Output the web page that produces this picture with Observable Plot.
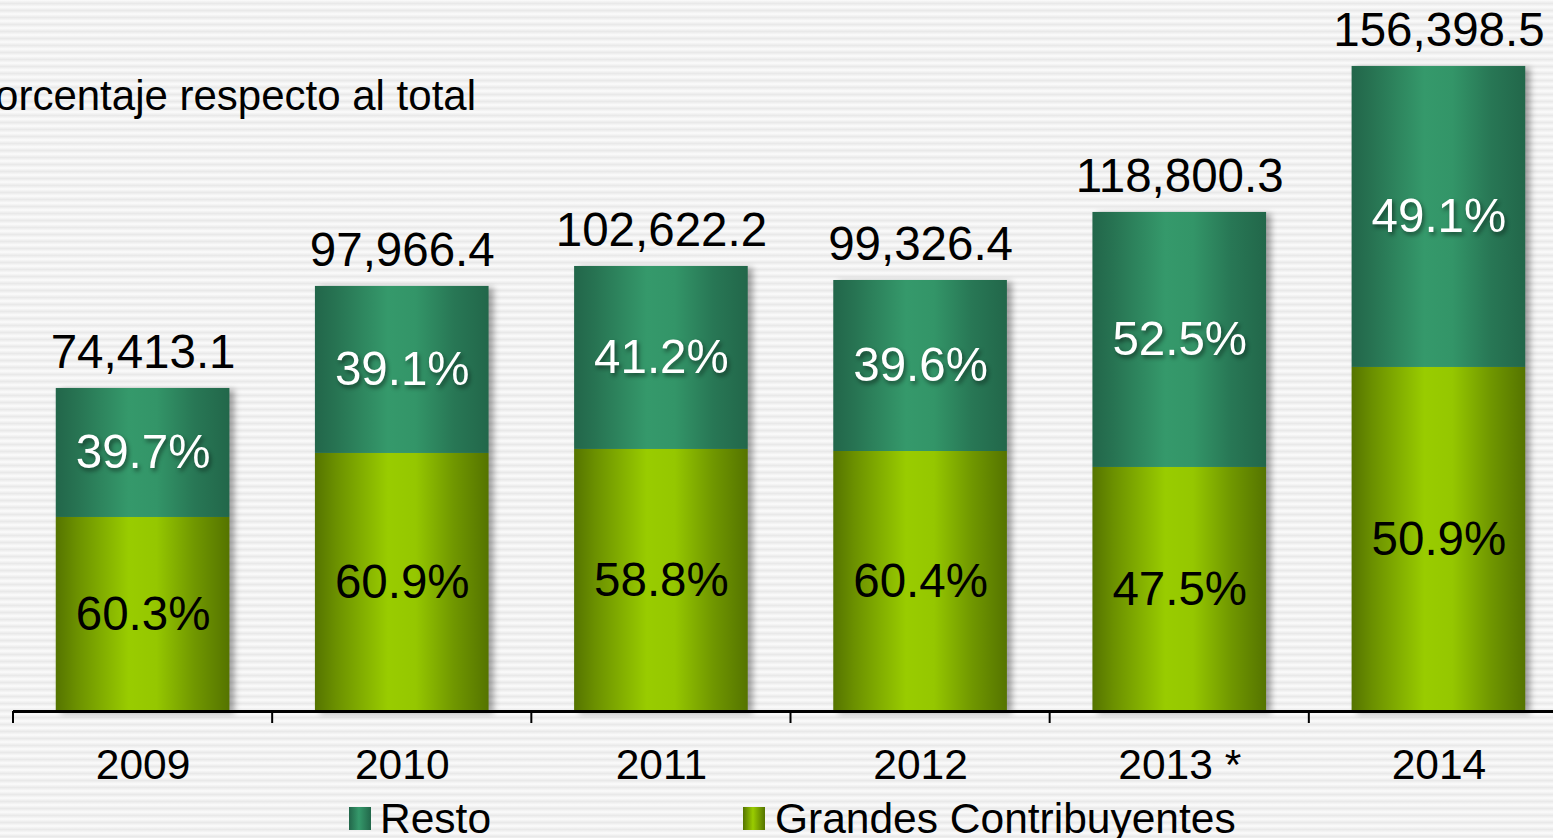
<!DOCTYPE html>
<html>
<head>
<meta charset="utf-8">
<script src="https://cdn.jsdelivr.net/npm/d3@7"></script>
<script src="https://cdn.jsdelivr.net/npm/@observablehq/plot@0.6"></script>
<style>
  html, body { margin: 0; padding: 0; overflow: hidden; }
  body {
    width: 1553px; height: 838px;
    background: repeating-linear-gradient(to bottom, #fbfbfb 0px, #e9e9e9 3.5px, #fbfbfb 7px);
    font-family: "Liberation Sans", Arial, sans-serif;
  }
  #wrap { position: relative; width: 1553px; height: 838px; overflow: hidden; }
  #title { position: absolute; right: 1077px; top: 75px; font-size: 42px; line-height: 42px; white-space: nowrap; color: #000; }
  #legend { position: absolute; left: 0; top: 800px; width: 1553px; height: 38px; overflow: hidden; }
  .sw { position: absolute; top: 7px; width: 22px; height: 23px; }
  .lt { position: absolute; top: -2px; font-size: 42.5px; line-height: 42px; white-space: nowrap; color: #000; }
  svg { display: block; }
</style>
</head>
<body>
<div id="wrap">
  <div id="chart"></div>
  <div id="title">Porcentaje respecto al total</div>
  <div id="legend"></div>
</div>
<script>
// ---- Data ----
const years = ["2009", "2010", "2011", "2012", "2013", "2014"];
const yearLabels = ["2009", "2010", "2011", "2012", "2013 *", "2014"];
const totals = [74413.1, 97966.4, 102622.2, 99326.4, 118800.3, 156398.5];
const pctGrandes = [60.3, 60.9, 58.8, 60.4, 47.5, 50.9];
const pctResto = [39.7, 39.1, 41.2, 39.6, 52.5, 49.1];
// bar segment sizes as drawn
const grandesBar = [44700, 59450, 60370, 59900, 56220, 79260];
const restoBar = [29720, 38480, 42160, 39400, 58750, 69350];
const series = ["Grandes Contribuyentes", "Resto"];

const table = years.flatMap((y, i) => [
  {year: y, series: series[0], value: grandesBar[i], pct: pctGrandes[i]},
  {year: y, series: series[1], value: restoBar[i], pct: pctResto[i]}
]);
const tops = years.map((y, i) => ({year: y, top: grandesBar[i] + restoBar[i], total: totals[i]}));
const fmtPct = v => d3.format(".1f")(v) + "%";
const fmtTot = d3.format(",.1f");

const chart = Plot.plot({
  width: 1553,
  height: 800,
  marginTop: 0,
  marginRight: 0,
  marginBottom: 89,
  marginLeft: 13,
  style: {background: "transparent", fontFamily: "'Liberation Sans', Arial, sans-serif", color: "#000", overflow: "visible"},
  x: {domain: years, range: [13, 1568], paddingInner: 0.33, paddingOuter: 0.165, round: false, axis: null},
  y: {domain: [0, 163800], axis: null},
  color: {domain: series, range: ["url(#gradG)", "url(#gradR)"]},
  marks: [
    Plot.barY(table, {x: "year", y: "value", fill: "series"}),
    Plot.ruleY([0], {stroke: "#000", strokeWidth: 3}),
    Plot.text(table, Plot.stackY({
      x: "year", y: "value", z: "series",
      text: d => d.series === "Resto" ? fmtPct(d.pct) : "",
      fill: "white", fontSize: 47.5
    })),
    Plot.text(table, Plot.stackY({
      x: "year", y: "value", z: "series",
      text: d => d.series === "Grandes Contribuyentes" ? fmtPct(d.pct) : "",
      fill: "black", fontSize: 47.5
    })),
    Plot.text(tops, {x: "year", y: "top", text: d => fmtTot(d.total), lineAnchor: "bottom", dy: -20, fontSize: 47.5, fill: "black"}),
    Plot.text(years, {x: d => d, text: (d, i) => yearLabels[i], frameAnchor: "bottom", lineAnchor: "top", dy: 37, fontSize: 42.5, fill: "black"})
  ]
});
document.getElementById("chart").appendChild(chart);

// gradients
const svg = d3.select(chart);
const defs = svg.insert("defs", ":first-child");
function grad(id, stops) {
  const g = defs.append("linearGradient").attr("id", id).attr("x1", 0).attr("x2", 1).attr("y1", 0).attr("y2", 0);
  stops.forEach(([o, c]) => g.append("stop").attr("offset", o).attr("stop-color", c));
}
grad("gradR", [[0, "#22664a"], [0.12, "#277352"], [0.42, "#35996b"], [0.58, "#339568"], [0.8, "#287755"], [1, "#22674a"]]);
grad("gradG", [[0, "#557400"], [0.12, "#6b9000"], [0.42, "#99cc00"], [0.58, "#95c700"], [0.8, "#709700"], [1, "#557400"]]);

// bar drop shadow, label shadows
svg.selectAll('g[aria-label="bar"]').style("filter", "drop-shadow(5px 2px 3px rgba(0,0,0,0.35))");
const textGroups = svg.selectAll('g[aria-label="text"]').nodes();
if (textGroups[0]) textGroups[0].style.filter = "drop-shadow(2px 3px 2px rgba(0,0,0,0.45))";

// boundary ticks from the x scale
const sx = chart.scale("x");
const step = sx.step, bw = sx.bandwidth;
const sy = chart.scale("y");
const y0 = sy.apply(0);
const bounds = years.map(y => sx.apply(y) - (step - bw) / 2);
svg.append("g").attr("stroke", "#000").attr("stroke-width", 2)
  .selectAll("line").data(bounds).join("line")
  .attr("x1", d => d).attr("x2", d => d).attr("y1", y0).attr("y2", y0 + 12);

// legend
const legend = d3.select("#legend");
const legendItems = [
  {name: "Resto", swatchX: 349, textX: 380, grad: "linear-gradient(to right, #22664a, #35996b 45%, #22674a)"},
  {name: "Grandes Contribuyentes", swatchX: 743, textX: 775, grad: "linear-gradient(to right, #557400, #99cc00 45%, #557400)"}
];
legendItems.forEach(it => {
  legend.append("div").attr("class", "sw").style("left", it.swatchX + "px").style("background", it.grad);
  legend.append("div").attr("class", "lt").style("left", it.textX + "px").text(it.name);
});
</script>
</body>
</html>
